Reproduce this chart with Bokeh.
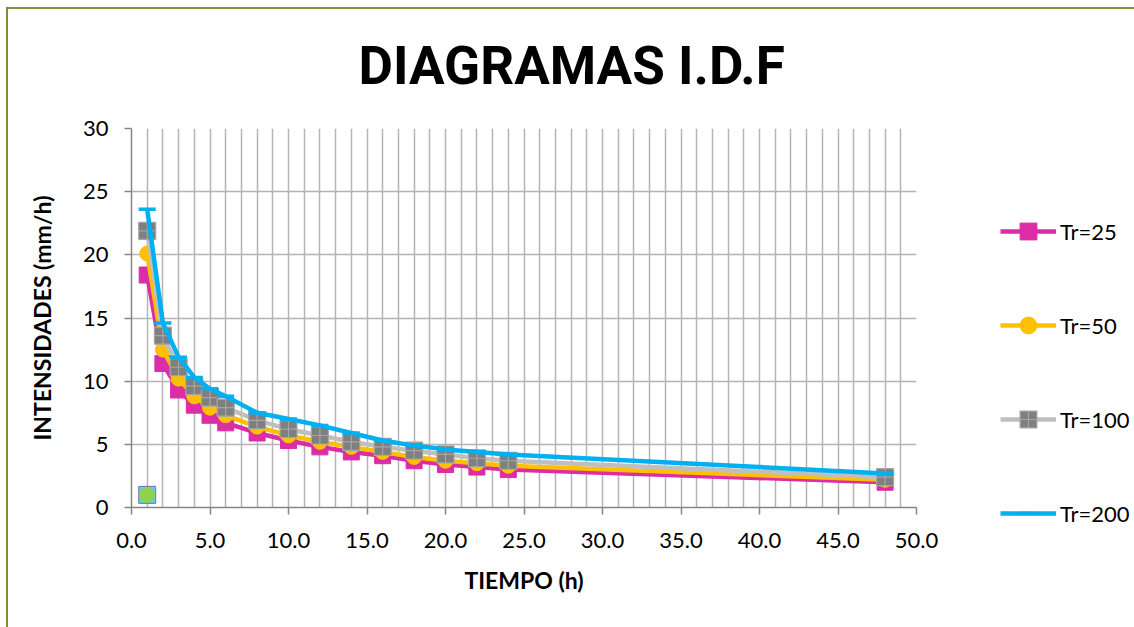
from bokeh.plotting import figure
from bokeh.models import (Range1d, SingleIntervalTicker, NumeralTickFormatter,
                          Legend, LegendItem, Title, InlineStyleSheet)
from bokeh.embed import file_html
from bokeh.resources import INLINE

# ---- data ----
tiempo = [1, 2, 3, 4, 5, 6, 8, 10, 12, 14, 16, 18, 20, 22, 24, 48]
tr25 = [18.4, 11.4, 9.3, 8.1, 7.3, 6.7, 5.9, 5.3, 4.8, 4.4, 4.1, 3.7, 3.4, 3.2, 3.0, 2.0]
tr50 = [20.1, 12.5, 10.2, 8.8, 7.9, 7.3, 6.4, 5.7, 5.2, 4.8, 4.4, 4.0, 3.7, 3.5, 3.3, 2.2]
tr100 = [21.9, 13.6, 11.1, 9.6, 8.7, 7.9, 6.9, 6.2, 5.7, 5.2, 4.8, 4.5, 4.2, 3.9, 3.7, 2.4]
tr200 = [23.6, 14.6, 11.9, 10.3, 9.4, 8.8, 7.5, 7.0, 6.5, 5.9, 5.3, 4.9, 4.6, 4.4, 4.2, 2.7]
extra_x = [1]
extra_y = [1]
series_names = ["Tr=25", "Tr=50", "Tr=100", "Tr=200"]

MAG = "#DC2CA6"
GOLD = "#FFC000"
GRAYL = "#BFBFBF"
GRAYM = "#7F7F7F"
CYAN = "#00B0F0"
FONT = "Lato"

styles = [
    dict(line=MAG, marker="square", size=16, fill=MAG, mline=MAG, mlw=1),
    dict(line=GOLD, marker="circle", size=15, fill=GOLD, mline=GOLD, mlw=1),
    dict(line=GRAYL, marker="square_cross", size=17, fill=GRAYM, mline="#A6A6A6", mlw=1.2),
    dict(line=CYAN, marker="dash", size=17, fill=CYAN, mline=CYAN, mlw=3.5),
]

p = figure(width=1134, height=627, x_range=Range1d(0, 50), y_range=Range1d(0, 30),
           output_backend="svg", toolbar_location=None,
           min_border_left=131, min_border_right=218, min_border_top=128,
           min_border_bottom=120)
p.outline_line_color = None
p.background_fill_color = "white"
p.border_fill_color = "white"

# outer green border of the chart area
p.stylesheets = [InlineStyleSheet(css="""
:host { overflow: hidden; }
:host::after {
  content: ""; position: absolute; left: 6px; top: 7px;
  width: 1160px; height: 660px; border: 2px solid #77933C;
  pointer-events: none; z-index: 10;
}
""")]

# grids
p.xgrid.ticker = SingleIntervalTicker(interval=1)
p.ygrid.ticker = SingleIntervalTicker(interval=5)
for g in (p.xgrid, p.ygrid):
    g.grid_line_color = "#B4B4B4"
    g.grid_line_width = 1.5

# axes
p.xaxis.ticker = SingleIntervalTicker(interval=5)
p.yaxis.ticker = SingleIntervalTicker(interval=5)
p.xaxis.formatter = NumeralTickFormatter(format="0.0")
p.yaxis.formatter = NumeralTickFormatter(format="0")
for ax in (p.xaxis, p.yaxis):
    ax.axis_line_color = "#868686"
    ax.axis_line_width = 1.5
    ax.major_tick_line_color = "#868686"
    ax.major_tick_line_width = 1.5
    ax.major_tick_out = 7
    ax.major_tick_in = 0
    ax.minor_tick_line_color = None
    ax.major_label_text_font = FONT
    ax.major_label_text_font_size = "22px"
    ax.major_label_text_color = "black"
    ax.axis_label_text_font = FONT
    ax.axis_label_text_font_style = "bold"
    ax.axis_label_text_font_size = "23px"
    ax.axis_label_text_color = "black"
p.xaxis.major_label_standoff = 18
p.yaxis.major_label_standoff = 16
p.xaxis.axis_label = "TIEMPO (h)"
p.yaxis.axis_label = "INTENSIDADES (mm/h)"
p.xaxis.axis_label_standoff = 15
p.yaxis.axis_label_standoff = 24

all_series = [tr25, tr50, tr100, tr200]

# series
for ys, st in zip(all_series, styles):
    p.line(tiempo, ys, line_color=st["line"], line_width=4.5)
    p.scatter(tiempo, ys, marker=st["marker"], size=st["size"], fill_color=st["fill"],
              line_color=st["mline"], line_width=st["mlw"])

# stray points at (1, 1)
p.scatter(extra_x, extra_y, marker="square", size=17, fill_color="#4FD5F2",
          line_color="#7A6FB0", line_width=1)
p.scatter(extra_x, extra_y, marker="circle", size=15, fill_color="#92D050",
          line_color="#92D050")

# title
p.title = Title(text="DIAGRAMAS I.D.F", align="left", offset=227, standoff=64,
                text_font="Roboto", text_font_style="bold",
                text_font_size="53px", text_color="black")

# legend: a transparent overlay figure at the right edge (its own renderers are
# off-range so only the legend shows)
pl = figure(width=144, height=627, x_range=Range1d(1000, 1001), y_range=Range1d(1000, 1001),
            output_backend="svg", toolbar_location=None, min_border=0,
            x_axis_type=None, y_axis_type=None)
pl.outline_line_color = None
pl.grid.visible = False
pl.background_fill_alpha = 0
pl.border_fill_alpha = 0
pl.stylesheets = [InlineStyleSheet(css=":host { position: absolute; left: 990px; top: 0px; }")]
items = []
for name, ys, st in zip(series_names, all_series, styles):
    rl = pl.line(tiempo, ys, line_color=st["line"], line_width=4.5)
    rm = pl.scatter(tiempo, ys, marker=st["marker"], size=st["size"], fill_color=st["fill"],
                    line_color=st["mline"], line_width=st["mlw"])
    items.append(LegendItem(label=name, renderers=[rl, rm]))
legend = Legend(items=items, location=(10, 93), orientation="vertical",
                glyph_width=56, glyph_height=42, label_height=42, spacing=52,
                padding=0, margin=0, border_line_color=None, background_fill_alpha=0,
                label_text_font=FONT, label_text_font_size="22px", label_standoff=4,
                label_text_color="black")
pl.add_layout(legend)

open("out.html", "w").write(file_html([p, pl], INLINE))
